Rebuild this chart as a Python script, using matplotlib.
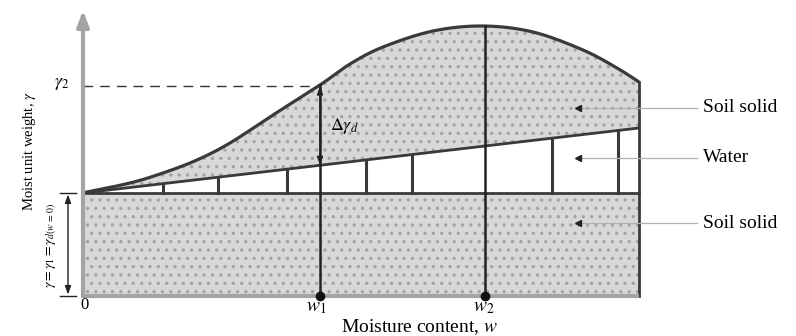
import numpy as np
import matplotlib
matplotlib.use("Agg")
import matplotlib.pyplot as plt

plt.rcParams["font.family"] = ["Liberation Serif", "DejaVu Serif"]
plt.rcParams["mathtext.fontset"] = "stix"
plt.rcParams["hatch.linewidth"] = 1.2

# Moist unit weight curve (arbitrary units)
w_curve = [0.00, 0.04, 0.47, 0.80, 1.14, 1.47, 1.90, 2.37, 2.67,
           3.00, 3.50, 4.00, 4.50, 5.00, 5.34, 5.56]
gamma_curve = [1.03, 1.04, 1.13, 1.23, 1.36, 1.53, 1.81, 2.11, 2.32,
               2.49, 2.65, 2.70, 2.64, 2.46, 2.28, 2.14]

# Dry soil solid level and the water / soil boundary
gamma_1 = 1.03
w_water = [0.00, 5.56]
gamma_water = [1.03, 1.68]

# Water columns, moisture contents and gamma_2
w_columns = [0.80, 1.35, 2.04, 2.83, 3.29, 4.69, 5.35]
w_1, w_2 = 2.37, 4.02
gamma_2 = 2.10

dark = "#3a3a3a"
axis_gray = "#a4a4a4"
fill_gray = "#d8d8d8"
speck = "#a4a4a4"


def smooth(xs, ys, n=30):
    """Catmull-Rom spline through the given points, for a smooth outline."""
    p = np.column_stack([xs, ys]).astype(float)
    p = np.vstack([2 * p[0] - p[1], p, 2 * p[-1] - p[-2]])
    t = np.linspace(0, 1, n, endpoint=False)[:, None]
    out = []
    for i in range(1, len(p) - 2):
        p0, p1, p2, p3 = p[i - 1], p[i], p[i + 1], p[i + 2]
        seg = 0.5 * ((2 * p1) + (-p0 + p2) * t + (2 * p0 - 5 * p1 + 4 * p2 - p3) * t ** 2
                     + (-p0 + 3 * p1 - 3 * p2 + p3) * t ** 3)
        out.append(seg)
    out.append(p[-2][None, :])
    out = np.vstack(out)
    return out[:, 0], out[:, 1]


fig = plt.figure(figsize=(7.96, 3.36), dpi=100)
ax = fig.add_axes([0, 0, 1, 1])
ax.set_xlim(-0.83, 7.13)
ax.set_ylim(-0.40, 2.96)
ax.axis("off")

w_s, g_s = smooth(w_curve, gamma_curve)
water_s = np.interp(w_s, w_water, gamma_water)


def top_at(w):
    return np.interp(w, w_s, g_s)


# Soil solid regions
ax.fill_between([0, w_curve[-1]], 0, gamma_1, facecolor=fill_gray,
                edgecolor=speck, hatch="..", linewidth=0, zorder=1)
ax.fill_between(w_s, water_s, g_s, facecolor=fill_gray,
                edgecolor=speck, hatch="..", linewidth=0, zorder=1)

# Outlines
ax.plot(w_s, g_s, color=dark, lw=2.3, zorder=3, solid_capstyle="butt")
ax.plot(w_water, gamma_water, color=dark, lw=2.0, zorder=3)
ax.plot([0, w_curve[-1]], [gamma_1, gamma_1], color=dark, lw=2.0, zorder=3)
ax.plot([w_curve[-1], w_curve[-1]], [0, gamma_curve[-1]], color=dark, lw=2.0, zorder=3)

for wc in w_columns:
    ax.plot([wc, wc], [gamma_1, np.interp(wc, w_water, gamma_water)],
            color=dark, lw=2.2, zorder=3)

# Moisture content lines
ax.plot([w_1, w_1], [0, top_at(w_1)], color="#222222", lw=1.8, zorder=4)
ax.plot([w_2, w_2], [0, top_at(w_2)], color="#222222", lw=1.8, zorder=4)
ax.plot([w_1, w_2], [0, 0], "o", color="#111111", ms=6, zorder=6)

# Axes
ax.plot([0, 0], [0, 2.80], color=axis_gray, lw=3.0, zorder=5, solid_capstyle="butt")
ax.plot([-0.02, w_curve[-1]], [0, 0], color=axis_gray, lw=3.0, zorder=5, solid_capstyle="butt")
ax.annotate("", xy=(0, 2.88), xytext=(0, 2.74),
            arrowprops=dict(arrowstyle="-|>,head_length=0.9,head_width=0.35",
                            color=axis_gray, lw=3.0), zorder=5)

# gamma_2 reference
ax.plot([0, w_1], [gamma_2, gamma_2], color="#333333", lw=1.0, ls=(0, (7, 5)), zorder=4)
ax.text(-0.21, gamma_2 + 0.02, r"$\gamma_2$", fontsize=13, ha="center", va="center")

# Delta gamma_d double arrow
g_w1 = np.interp(w_1, w_water, gamma_water)
ax.annotate("", xy=(w_1, gamma_2), xytext=(w_1, g_w1),
            arrowprops=dict(arrowstyle="<|-|>,head_length=0.5,head_width=0.18",
                            color="#222222", lw=1.0, shrinkA=0, shrinkB=0), zorder=6)
ax.text(2.62, 1.70, r"$\Delta\gamma_d$", fontsize=13, ha="center", va="center", zorder=6)

# Gamma_1 bracket on the left
xb = -0.15
ax.plot([xb - 0.08, xb + 0.08], [gamma_1, gamma_1], color="#222222", lw=1.0)
ax.plot([xb - 0.08, xb + 0.08], [0, 0], color="#222222", lw=1.0)
ax.annotate("", xy=(xb, gamma_1), xytext=(xb, 0),
            arrowprops=dict(arrowstyle="<|-|>,head_length=0.5,head_width=0.18",
                            color="#222222", lw=1.0, shrinkA=1, shrinkB=1))
ax.text(-0.31, 0.51, r"$\gamma = \gamma_1 = \gamma_{d(w\,=\,0)}$", fontsize=10,
        rotation=90, ha="center", va="center")

# Axis labels
ax.text(-0.53, 1.45, r"Moist unit weight, $\gamma$", fontsize=10.5, rotation=90,
        ha="center", va="center")
ax.text(3.37, -0.31, r"Moisture content, $w$", fontsize=14, ha="center", va="center")
ax.text(0.02, -0.09, "0", fontsize=12, ha="center", va="center")
ax.text(w_1 - 0.04, -0.12, r"$w_1$", fontsize=14, ha="center", va="center")
ax.text(w_2 - 0.01, -0.12, r"$w_2$", fontsize=14, ha="center", va="center")

# Region labels with pointers
labels = ["Soil solid", "Water", "Soil solid"]
label_y = [1.88, 1.38, 0.73]
for txt, yy in zip(labels, label_y):
    ax.plot([4.97, 6.14], [yy, yy], color="#b0b0b0", lw=0.9, zorder=6)
    ax.plot([4.95], [yy], marker="<", color="#222222", ms=5, zorder=7)
    ax.text(6.20, yy, txt, fontsize=14, ha="left", va="center")

fig.savefig("out.png", dpi=100)
